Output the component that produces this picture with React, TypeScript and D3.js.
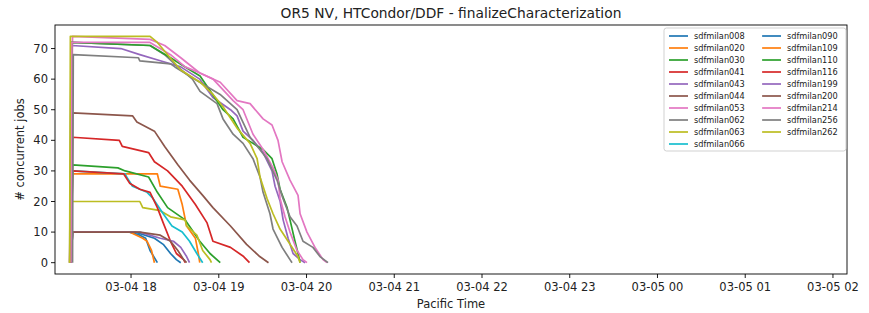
import React from 'react';
import * as d3 from 'd3';

const W = 869;
const H = 313;
const plot = { left: 55, right: 847, top: 25, bottom: 274 };

// time = minutes after 03-04 17:00 (Pacific), value = # concurrent jobs
const sdfmilan008 = [[19,0],[20,10],[59,10],[66,9],[70,8],[73,4],[78,0]];
const sdfmilan020 = [[19,0],[20,29],[57,29],[78,29],[80,25],[92,24],[95,19],[98,12],[104,8],[106,3],[107,0]];
const sdfmilan030 = [[19,0],[20,32],[51,31],[56,30],[72,28],[78,23],[85,18],[97,14],[107,7],[114,3],[121,0]];
const sdfmilan041 = [[19,0],[20,41],[52,40],[54,38],[72,36],[76,33],[85,30],[95,25],[104,19],[112,13],[116,7],[128,5],[137,2],[141,0]];
const sdfmilan043 = [[19,0],[19.5,71],[53,70],[66,68],[80,66],[94,64],[107,60],[116,54],[128,50],[132.5,48],[136.6,43],[143.4,40],[150.3,36],[156.4,30],[158.5,25],[162,20],[164,14],[167.4,8],[170.8,3],[175.6,1],[179,0]];
const sdfmilan044 = [[19,0],[20,49],[61,48],[64,46],[76,43],[83,38],[92,32],[100,27],[109,22],[116,18],[128,12],[139,6],[148,2],[154,0]];
const sdfmilan053 = [[18,0],[20,74],[73,73],[83,71],[94,67],[107,62],[121,59],[132.5,53],[141.4,52],[150.3,47],[156.4,45],[160.5,40],[163.3,33],[168.7,27],[174.2,22],[175.6,16],[180.3,10],[185.8,5],[191.3,1],[194,0]];
const sdfmilan062 = [[18,0],[19,72],[73,71],[83,68],[92,64],[102,60],[107.2,56],[118.8,52],[122.9,47],[129.8,42],[136.6,39],[143.4,34],[148.2,28],[150.3,23],[155,16],[157.1,11],[163.3,5],[168.7,1],[170.1,0]];
const sdfmilan063 = [[18,0],[19,20],[66,20],[68,18],[80,17],[87,15],[97,14],[98,12],[105,9],[109,4],[114,1],[115,0]];
const sdfmilan066 = [[19,0],[20,30],[56,29],[57,28],[61,25],[71,23],[75,21],[82,16],[88,12],[95,10],[100,7],[105,3],[109,0]];
const sdfmilan090 = [[19,0],[20,10],[63,10],[76,8],[82,6],[87,3],[91,1],[94,0]];
const sdfmilan109 = [[19,0],[20,10],[59,10],[68,8],[71,7],[74,4],[76,0]];
const sdfmilan110 = [[19,0],[19.5,72],[73,71],[87,67],[97,64],[107.2,61],[122.9,50],[129.8,47],[136.6,41],[143.4,39],[150.3,37],[156.4,34],[159.8,29],[161.9,24],[166.7,18],[168.7,14],[172.1,7],[174.2,3],[175.6,0]];
const sdfmilan116 = [[19,0],[20,30],[55,29],[59,26],[66,24],[73,23],[78,18],[82,13],[87,7],[91,3],[96,1],[97,0]];
const sdfmilan199 = [[19,0],[20,10],[66,10],[80,8],[89,7],[94,5],[98,2],[100,0]];
const sdfmilan200 = [[19,0],[20,10],[66,10],[80,9],[87,7],[92,4],[96,1],[98,0]];
const sdfmilan214 = [[19,0],[19.5,72],[73,72],[87,68],[97,64],[107.2,62],[116.1,60],[129.8,53],[136.6,50],[143.4,42],[150.3,37],[157.1,31],[160.5,27],[161.9,21],[165.3,15],[168.7,10],[173.5,4],[177.6,1],[180.3,0]];
const sdfmilan256 = [[20,0],[20.5,68],[65,67],[66,66],[87,65],[90,64],[100,61],[107,59],[120.9,55],[132.5,50],[141.4,41],[153,34],[159.8,27],[163.9,21],[168.7,15],[173.5,12],[177.6,7],[184.4,5],[189.2,2],[194.7,0]];
const sdfmilan262 = [[18,0],[18.5,74],[73,74],[78,72],[85,68],[94,63],[107.2,59],[116.1,55],[122.9,51],[132.5,44],[141.4,39],[146.2,34],[148.2,28],[153,21],[157.1,16],[161.9,11],[167.4,7],[174.2,2],[175.6,0]];

const names = ['sdfmilan008','sdfmilan020','sdfmilan030','sdfmilan041','sdfmilan043','sdfmilan044','sdfmilan053','sdfmilan062','sdfmilan063','sdfmilan066','sdfmilan090','sdfmilan109','sdfmilan110','sdfmilan116','sdfmilan199','sdfmilan200','sdfmilan214','sdfmilan256','sdfmilan262'];
const series = [sdfmilan008,sdfmilan020,sdfmilan030,sdfmilan041,sdfmilan043,sdfmilan044,sdfmilan053,sdfmilan062,sdfmilan063,sdfmilan066,sdfmilan090,sdfmilan109,sdfmilan110,sdfmilan116,sdfmilan199,sdfmilan200,sdfmilan214,sdfmilan256,sdfmilan262];
const yTicks = [0, 10, 20, 30, 40, 50, 60, 70];
const xStartMin = 8;
const xEndMin = 549.6;

const T0 = new Date(2024, 2, 4, 17, 0, 0).getTime();
const toDate = (m: number) => new Date(T0 + m * 60000);

const font = 'DejaVu Sans, sans-serif';

const App = () => {
  const x = d3.scaleTime().domain([toDate(xStartMin), toDate(xEndMin)]).range([plot.left, plot.right]);
  const y = d3.scaleLinear().domain([-3.7, 77.7]).range([plot.bottom, plot.top]);
  const xTicks = x.ticks(d3.timeHour.every(1) as any);
  const fmt = d3.timeFormat('%m-%d %H');
  const line = d3.line<number[]>().x(d => x(toDate(d[0]))).y(d => y(d[1]));
  const colors = d3.schemeCategory10;
  const cx = (plot.left + plot.right) / 2;

  // legend
  const lg = { x: 664, y: 28, w: 182, h: 123, row: 12 };

  return (
    <svg width={W} height={H} style={{ position: 'absolute', left: 0, top: 0, background: '#fff' }} fontFamily={font}>
      <rect x={0} y={0} width={W} height={H} fill="#fff" />
      <defs>
        <clipPath id="clip">
          <rect x={plot.left} y={plot.top} width={plot.right - plot.left} height={plot.bottom - plot.top} />
        </clipPath>
      </defs>
      <g clipPath="url(#clip)">
        {series.map((s, i) => (
          <path key={names[i]} d={line(s) || ''} fill="none" stroke={colors[i % 10]} strokeWidth={1.7} strokeLinejoin="round" />
        ))}
      </g>
      <rect x={plot.left} y={plot.top} width={plot.right - plot.left} height={plot.bottom - plot.top} fill="none" stroke="#000" strokeWidth={0.9} />
      {yTicks.map(t => (
        <g key={t}>
          <line x1={plot.left - 4} x2={plot.left} y1={y(t)} y2={y(t)} stroke="#000" strokeWidth={0.9} />
          <text x={plot.left - 7} y={y(t)} dy="0.35em" textAnchor="end" fontSize={11.5} fill="#222">{t}</text>
        </g>
      ))}
      {xTicks.map(t => (
        <g key={t.getTime()}>
          <line x1={x(t)} x2={x(t)} y1={plot.bottom} y2={plot.bottom + 4} stroke="#000" strokeWidth={0.9} />
          <text x={x(t)} y={plot.bottom + 17} textAnchor="middle" fontSize={11.5} fill="#222">{fmt(t)}</text>
        </g>
      ))}
      <text x={cx} y={308} textAnchor="middle" fontSize={11.5} fill="#222">Pacific Time</text>
      <text transform={`translate(24,${(plot.top + plot.bottom) / 2}) rotate(-90)`} textAnchor="middle" fontSize={11.5} fill="#222"># concurrent jobs</text>
      <text x={cx} y={18} textAnchor="middle" fontSize={13.8} fill="#222">OR5 NV, HTCondor/DDF - finalizeCharacterization</text>

      <rect x={lg.x} y={lg.y} width={lg.w} height={lg.h} rx={2.5} fill="#fff" fillOpacity={0.8} stroke="#ccc" strokeWidth={0.9} />
      {names.map((n, i) => {
        const col = i < 10 ? 0 : 1;
        const row = i < 10 ? i : i - 10;
        const lx = lg.x + 5 + col * 93;
        const ly = lg.y + 8 + row * lg.row;
        return (
          <g key={n}>
            <line x1={lx} x2={lx + 19} y1={ly} y2={ly} stroke={colors[i % 10]} strokeWidth={1.7} />
            <text x={lx + 25} y={ly} dy="0.35em" fontSize={8.2} fill="#222">{n}</text>
          </g>
        );
      })}
    </svg>
  );
};

export default App;
